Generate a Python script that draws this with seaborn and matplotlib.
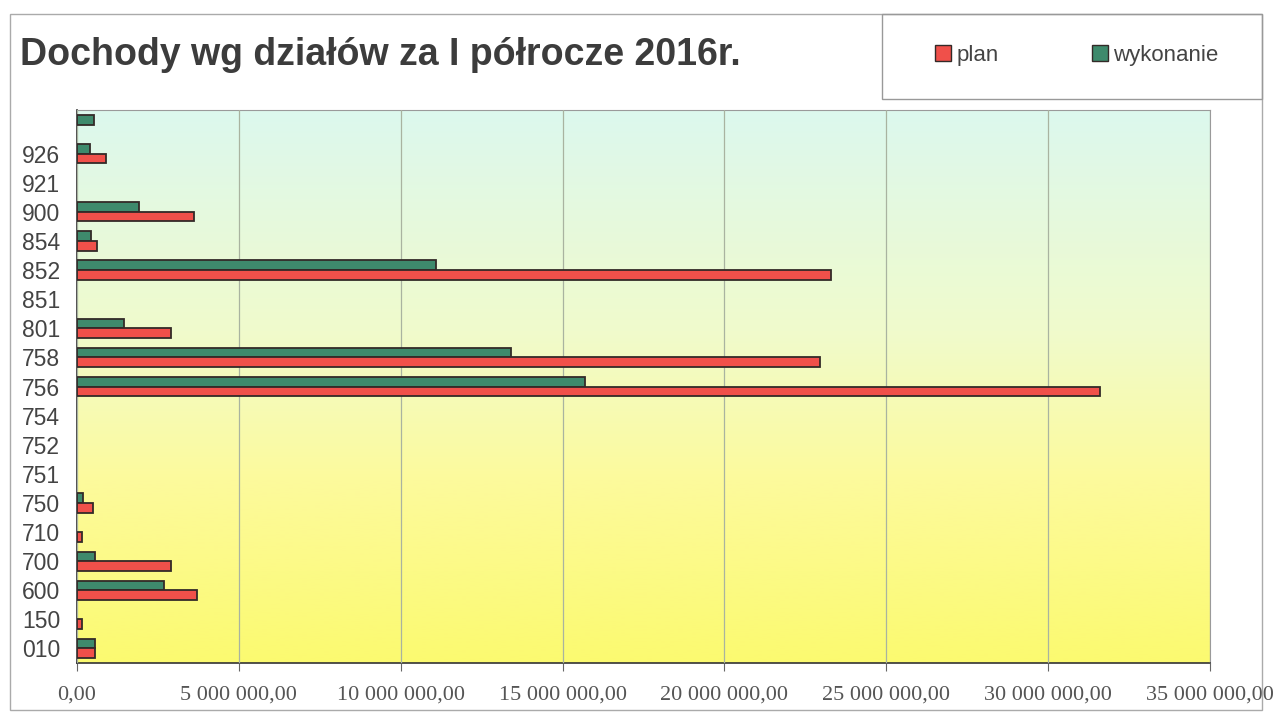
import numpy as np
import pandas as pd
import matplotlib.pyplot as plt
import seaborn as sns
from matplotlib.patches import Rectangle, Patch
from matplotlib.colors import to_rgb
from matplotlib.ticker import FuncFormatter, FixedLocator

# dane z wykresu (od gory do dolu)
dzialy = ["", "926", "921", "900", "854", "852", "851", "801", "758", "756",
          "754", "752", "751", "750", "710", "700", "600", "150", "010"]
plan = [0, 900000, 0, 3600000, 620000, 23300000, 0, 2900000, 22950000, 31600000,
        0, 0, 0, 480000, 150000, 2900000, 3700000, 150000, 550000]
wykonanie = [530000, 400000, 0, 1900000, 430000, 11100000, 0, 1450000, 13400000, 15700000,
             0, 0, 0, 200000, 0, 560000, 2700000, 0, 560000]

df = pd.DataFrame({"dzial": dzialy * 2,
                   "kwota": wykonanie + plan,
                   "typ": ["wykonanie"] * len(dzialy) + ["plan"] * len(dzialy)})
df.loc[df["kwota"] == 0, "kwota"] = np.nan

kolory = {"plan": "#f0504a", "wykonanie": "#3e8a6c"}

sns.set_style("white")
plt.rcParams['font.family'] = ['Liberation Sans', 'DejaVu Sans']

fig = plt.figure(figsize=(12.8, 7.15), dpi=100)
ax = fig.add_axes([77 / 1280, 52 / 715, 1133 / 1280, 553 / 715])

sns.barplot(data=df, y="dzial", x="kwota", hue="typ", order=dzialy,
            hue_order=["wykonanie", "plan"], palette=kolory, orient="h", saturation=1,
            width=0.66, edgecolor="#332a28", linewidth=1.3, ax=ax, legend=False, zorder=3)

# tlo gradientowe (gora -> dol)
stopy = [0.0, 0.4, 0.67, 1.0]
barwy = np.array([to_rgb(c) for c in ["#dcf8ee", "#f0fbcc", "#fdfa9c", "#fbfa70"]])
t = np.linspace(0, 1, 256)
img = np.stack([np.interp(t, stopy, barwy[:, k]) for k in range(3)], axis=-1)
ax.imshow(img[:, None, :], aspect="auto", extent=[0, 35e6, len(dzialy) - 0.5, -0.5],
          zorder=0, interpolation="bilinear")

ax.set_xlim(0, 35e6)
ax.set_ylim(len(dzialy) - 0.5, -0.5)
ax.set_xticks(np.arange(0, 35e6 + 1, 5e6))
ax.xaxis.set_major_formatter(FuncFormatter(
    lambda v, p: f"{v:,.2f}".replace(",", " ").replace(".", ",")))
ax.grid(axis="x", color="#a9b3a0", linewidth=0.9, zorder=1)
ax.set_axisbelow(False)
for l in ax.get_xgridlines():
    l.set_zorder(1)

ax.set_xlabel("")
ax.set_ylabel("")
ax.tick_params(axis="x", labelsize=16, colors="#555555", length=6, pad=10, direction="out")
for lab in ax.get_xticklabels():
    lab.set_family(["Liberation Serif", "DejaVu Serif"])
ax.tick_params(axis="y", which="major", length=0, labelsize=16.5, labelcolor="#444444", pad=12)
ax.yaxis.set_minor_locator(FixedLocator(np.arange(-0.5, len(dzialy), 1)))
ax.tick_params(axis="y", which="minor", length=6, color="#666666", direction="out")
ax.tick_params(axis="x", bottom=True, color="#666666")

for s in ["top", "right"]:
    ax.spines[s].set_color("#9a9a9a")
    ax.spines[s].set_linewidth(0.8)
for s in ["left", "bottom"]:
    ax.spines[s].set_color("#333333")
    ax.spines[s].set_linewidth(1.2)

# ramki wykresu i legendy
fig.patches.append(Rectangle((10 / 1280, 5 / 715), 1252 / 1280, 696 / 715,
                             transform=fig.transFigure, fill=False,
                             edgecolor="#aaaaaa", linewidth=1))
fig.patches.append(Rectangle((882 / 1280, 616 / 715), 380 / 1280, 85 / 715,
                             transform=fig.transFigure, fill=False,
                             edgecolor="#999999", linewidth=1))

fig.text(20 / 1280, 1 - 55 / 715, "Dochody wg działów za I półrocze 2016r.",
         fontsize=27, fontweight="bold", color="#3c3c3c", va="center")

uchwyty = [Patch(facecolor=kolory["plan"], edgecolor="#332a28", label="plan"),
           Patch(facecolor=kolory["wykonanie"], edgecolor="#332a28", label="wykonanie")]
fig.legend(handles=uchwyty, loc="center", bbox_to_anchor=(1077 / 1280, 1 - 55 / 715),
           ncol=2, frameon=False, fontsize=16, handlelength=0.7, handleheight=0.7,
           columnspacing=4.2, handletextpad=0.25, labelcolor="#444444")

fig.savefig("out.png", dpi=100)
